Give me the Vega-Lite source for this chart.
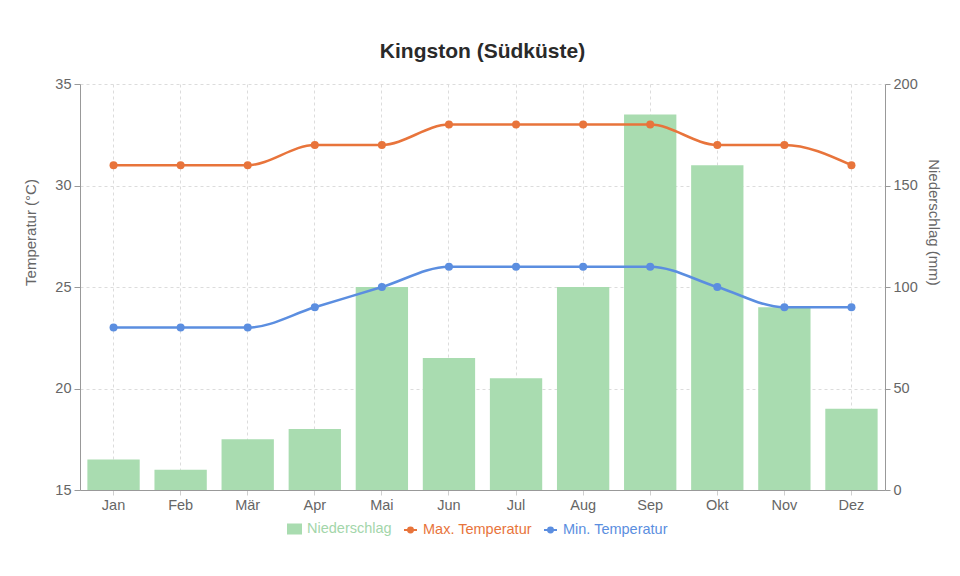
{
  "$schema": "https://vega.github.io/schema/vega-lite/v6.json",
  "width": 805,
  "height": 406,
  "autosize": {"type": "none"},
  "padding": {"left": 80, "top": 84, "right": 75, "bottom": 86},
  "background": "white",
  "title": {
    "text": "Kingston (Südküste)",
    "font": "Liberation Sans",
    "fontSize": 21,
    "fontWeight": "bold",
    "color": "#2a2a2a",
    "anchor": "middle",
    "offset": 14
  },
  "config": {
    "view": {"stroke": null},
    "axis": {
      "labelFont": "Liberation Sans",
      "titleFont": "Liberation Sans",
      "labelFontSize": 14.5,
      "titleFontSize": 15,
      "titleFontWeight": "normal",
      "labelColor": "#666",
      "titleColor": "#666",
      "domainColor": "#999",
      "tickColor": "#999",
      "gridColor": "#dcdcdc",
      "gridDash": [3, 3],
      "tickSize": 6,
      "labelPadding": 3
    },
    "legend": {
      "labelFont": "Liberation Sans",
      "labelFontSize": 14.5
    }
  },
  "data": {
    "values": [
      {"monat": "Jan", "niederschlag": 15, "tmax": 31, "tmin": 23},
      {"monat": "Feb", "niederschlag": 10, "tmax": 31, "tmin": 23},
      {"monat": "Mär", "niederschlag": 25, "tmax": 31, "tmin": 23},
      {"monat": "Apr", "niederschlag": 30, "tmax": 32, "tmin": 24},
      {"monat": "Mai", "niederschlag": 100, "tmax": 32, "tmin": 25},
      {"monat": "Jun", "niederschlag": 65, "tmax": 33, "tmin": 26},
      {"monat": "Jul", "niederschlag": 55, "tmax": 33, "tmin": 26},
      {"monat": "Aug", "niederschlag": 100, "tmax": 33, "tmin": 26},
      {"monat": "Sep", "niederschlag": 185, "tmax": 33, "tmin": 26},
      {"monat": "Okt", "niederschlag": 160, "tmax": 32, "tmin": 25},
      {"monat": "Nov", "niederschlag": 90, "tmax": 32, "tmin": 24},
      {"monat": "Dez", "niederschlag": 40, "tmax": 31, "tmin": 24}
    ]
  },
  "encoding": {
    "x": {
      "field": "monat",
      "type": "ordinal",
      "sort": null,
      "scale": {"paddingInner": 0.22, "paddingOuter": 0.11},
      "axis": {"title": null, "labelAngle": 0, "grid": true, "tickColor": "#cfcfcf", "tickSize": 5}
    }
  },
  "layer": [
    {
      "mark": {"type": "bar"},
      "encoding": {
        "y": {
          "field": "niederschlag",
          "type": "quantitative",
          "scale": {"domain": [0, 200]},
          "axis": {
            "orient": "right",
            "title": "Niederschlag (mm)",
            "grid": false,
            "values": [0, 50, 100, 150, 200],
            "tickSize": 5,
            "titleBaseline": "middle",
            "titleX": 48,
            "titleY": 138
          }
        },
        "color": {
          "datum": "Niederschlag",
          "type": "nominal",
          "scale": {
            "domain": ["Niederschlag", "Max. Temperatur", "Min. Temperatur"],
            "range": ["#a9dcb0", "#e8743b", "#5b8ee0"]
          },
          "legend": {
            "orient": "none",
            "legendX": 207,
            "legendY": 437,
            "direction": "horizontal",
            "title": null,
            "symbolSize": 169,
            "columnPadding": 8,
            "labelOffset": 5,
            "encode": {
              "labels": {
                "update": {
                  "fill": {"signal": "datum.value === 'Niederschlag' ? '#a3d6aa' : datum.value === 'Max. Temperatur' ? '#e8743b' : '#5b8ee0'"}
                }
              },
              "symbols": {
                "update": {
                  "shape": {"signal": "datum.value === 'Niederschlag' ? 'M-1,-0.7H1V0.7H-1Z' : 'M-1,0H-0.38M0.38,0H1M-0.38,0A0.38,0.38,0,1,1,0.38,0A0.38,0.38,0,1,1,-0.38,0'"},
                  "fill": {"signal": "datum.value === 'Niederschlag' ? '#a9dcb0' : '#ffffff'"},
                  "stroke": {"signal": "datum.value === 'Niederschlag' ? '#a9dcb0' : datum.value === 'Max. Temperatur' ? '#e8743b' : '#5b8ee0'"},
                  "strokeWidth": {"value": 2},
                  "opacity": {"value": 1}
                }
              }
            }
          }
        }
      }
    },
    {
      "encoding": {
        "y": {
          "type": "quantitative",
          "scale": {"domain": [15, 35], "zero": false},
          "axis": {
            "orient": "left",
            "title": "Temperatur (°C)",
            "grid": true,
            "values": [15, 20, 25, 30, 35],
            "titleBaseline": "middle",
            "titleX": -50,
            "titleY": 148
          }
        }
      },
      "layer": [
        {
          "mark": {
            "type": "line",
            "interpolate": "monotone",
            "strokeWidth": 2.5,
            "point": {"size": 64, "filled": true, "opacity": 1}
          },
          "encoding": {
            "y": {"field": "tmax", "type": "quantitative", "title": "Temperatur (°C)"},
            "color": {"datum": "Max. Temperatur", "type": "nominal"}
          }
        },
        {
          "mark": {
            "type": "line",
            "interpolate": "monotone",
            "strokeWidth": 2.5,
            "point": {"size": 64, "filled": true, "opacity": 1}
          },
          "encoding": {
            "y": {"field": "tmin", "type": "quantitative", "title": "Temperatur (°C)"},
            "color": {"datum": "Min. Temperatur", "type": "nominal"}
          }
        }
      ]
    }
  ],
  "resolve": {"scale": {"y": "independent"}}
}
